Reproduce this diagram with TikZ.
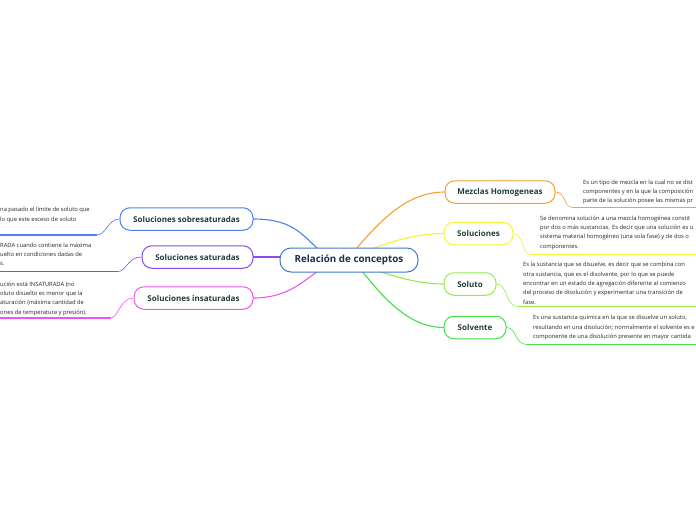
\documentclass[tikz,border=0pt]{standalone}
\usepackage{fontspec}
\setmainfont{Open Sans}
\begin{document}
\begin{tikzpicture}[x=1pt,y=-1pt,
  central/.style={draw=cBlue,line width=1pt,rounded corners=11pt,fill=white,minimum height=24pt,minimum width=138pt,inner xsep=4pt,font=\fontsize{9.8}{11}\selectfont\bfseries,text=cNavy},
  branch/.style={draw=#1,line width=1pt,rounded corners=10pt,fill=white,minimum height=22.5pt,inner xsep=3pt,font=\fontsize{8}{9}\selectfont\bfseries,text=cText},
  body/.style={align=left,inner sep=0pt,font=\fontsize{5.8}{9.4}\selectfont,text=black!85},
  conn/.style={draw=#1,line width=1.1pt},
  sub/.style={draw=#1,line width=0.6pt},
  under/.style={draw=#1,line width=1.4pt}
]
\definecolor{cBlue}{HTML}{3F78D0}
\definecolor{cNavy}{HTML}{1E2E4E}
\definecolor{cText}{HTML}{1F3D3A}
\definecolor{cSob}{HTML}{4F7FF5}
\definecolor{cSat}{HTML}{8A4AF0}
\definecolor{cIns}{HTML}{EE55EE}
\definecolor{cMez}{HTML}{F5A234}
\definecolor{cSol}{HTML}{F2F23C}
\definecolor{cSto}{HTML}{96EE44}
\definecolor{cSlv}{HTML}{44E044}
\clip (0,0) rectangle (696,520);
\fill[white] (0,0) rectangle (696,520);

% connector ends on the central node
\coordinate (c1) at (318,249);
\coordinate (c2) at (281,257);
\coordinate (c3) at (318,271);
\coordinate (c4) at (356,249);
\coordinate (c5) at (372,249);
\coordinate (c6) at (378,271);
\coordinate (c7) at (362,271);

% branch positions (drawn first for naming)
\path (186.5,219) coordinate (psob) (197.5,257) coordinate (psat) (193.5,298) coordinate (pins)
      (500,192) coordinate (pmez) (478.5,233.5) coordinate (psol) (470,284) coordinate (psto) (475,327.5) coordinate (pslv);

\draw[conn=cSob] (psob) ++(66.5,0) .. controls (290,219) and (300,232) .. (c1);
\draw[conn=cSat] (psat) ++(55.5,0) -- (c2);
\draw[conn=cIns] (pins) ++(59.5,0) .. controls (285,298) and (300,284) .. (c3);
\draw[conn=cMez] (c4) .. controls (385,215) and (410,192) .. (445,192);
\draw[conn=cSol] (c5) .. controls (395,240) and (420,233.5) .. (444,233.5);
\draw[conn=cSto] (c6) .. controls (400,278) and (420,284) .. (444,284);
\draw[conn=cSlv] (c7) .. controls (385,300) and (410,327.5) .. (444,327.5);

\node[central] (ctr) at (349,260) {Relación de conceptos};
\node[branch=cSob,minimum width=133pt] (sob) at (psob) {Soluciones sobresaturadas};
\node[branch=cSat,minimum width=111pt] (sat) at (psat) {Soluciones saturadas};
\node[branch=cIns,minimum width=119pt] (ins) at (pins) {Soluciones insaturadas};
\node[branch=cMez,minimum width=110pt] (mez) at (pmez) {Mezclas Homogeneas};
\node[branch=cSol,minimum width=69pt] (sol) at (psol) {Soluciones};
\node[branch=cSto,minimum width=52pt] (sto) at (psto) {Soluto};
\node[branch=cSlv,minimum width=62pt] (slv) at (pslv) {Solvente};

% right text blocks
\coordinate (u1) at (573,207.5);
\coordinate (u1e) at (696,207.5);
\draw[sub=cMez] (mez.east) .. controls (566,192) and (563,207.5) .. (u1);
\draw[under=cMez] (u1) -- (u1e);
\node[body,anchor=north west] (t1) at (583,179.5) {Es un tipo de mezcla en la cual no se dist\\componentes y en la que la composición\\parte de la solución posee las mismas pr};

\coordinate (u2) at (531,254.5);
\coordinate (u2e) at (696,254.5);
\draw[sub=cSol] (sol.east) .. controls (524,233.5) and (521,254.5) .. (u2);
\draw[under=cSol] (u2) -- (u2e);
\node[body,anchor=north west] (t2) at (540,215.5) {Se denomina solución a una mezcla homogénea constit\\por dos o más sustancias. Es decir que una solución es u\\sistema material homogéneo (una sola fase) y de dos o\\componentes.};

\coordinate (u3) at (518,306.5);
\coordinate (u3e) at (696,306.5);
\draw[sub=cSto] (sto.east) .. controls (508,284) and (505,306.5) .. (u3);
\draw[under=cSto] (u3) -- (u3e);
\node[body,anchor=north west] (t3) at (523,262) {Es la sustancia que se disuelve, es decir que se combina con\\otra sustancia, que es el disolvente,  por lo que se puede\\encontrar en un estado de agregación diferente al comienzo\\del proceso de disolución y experimentar una transición de\\fase.};

\coordinate (u4) at (527,344.5);
\coordinate (u4e) at (696,344.5);
\draw[sub=cSlv] (slv.east) .. controls (517,327.5) and (514,344.5) .. (u4);
\draw[under=cSlv] (u4) -- (u4e);
\node[body,anchor=north west] (t4) at (533,315) {Es una sustancia química en la que se disuelve un soluto,\\resultando en una disolución; normalmente el solvente es e\\componente de una disolución presente en mayor cantida};

% left text blocks
\coordinate (l1) at (97,235);
\coordinate (l1e) at (0,235);
\draw[sub=cSob] (sob.west) .. controls (108,219) and (106,235) .. (l1);
\draw[under=cSob] (l1) -- (l1e);
\node[body,anchor=north west] (t5) at (0,207) {na pasado el límite de soluto que\\lo que este exceso de soluto};

\coordinate (l2) at (118,271.5);
\coordinate (l2e) at (0,271.5);
\draw[sub=cSat] (sat.west) .. controls (128,257) and (126,271.5) .. (l2);
\draw[under=cSat] (l2) -- (l2e);
\node[body,anchor=north west] (t6) at (0,242.5) {RADA cuando contiene la máxima\\uelto en condiciones dadas de\\s.};

\coordinate (l3) at (111,318);
\coordinate (l3e) at (0,318);
\draw[sub=cIns] (ins.west) .. controls (120,298) and (118,318) .. (l3);
\draw[under=cIns] (l3) -- (l3e);
\node[body,anchor=north west] (t7) at (0,281.5) {ución está INSATURADA (no\\oluto disuelto es menor que la\\aturación (máxima cantidad de\\ones de temperatura y presión).};
\end{tikzpicture}
\end{document}
